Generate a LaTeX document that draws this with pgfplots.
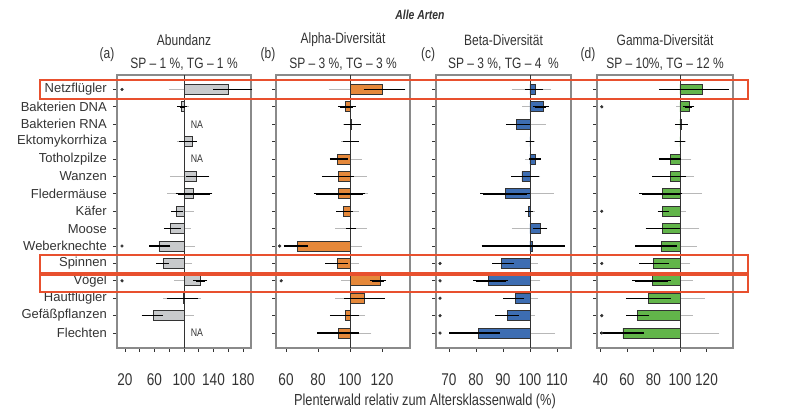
\documentclass[border=0pt]{standalone}
\usepackage{pgfplots}
\pgfplotsset{compat=1.18}
\usepackage{pgfplotstable}
\usepackage{fontspec}
\setmainfont{Liberation Sans}
\newfontfamily\cond{Liberation Sans}[FakeStretch=0.8]
\definecolor{cgray}{HTML}{C8CACC}
\definecolor{corange}{HTML}{E5883A}
\definecolor{cblue}{HTML}{3D6DB2}
\definecolor{cgreen}{HTML}{62B54A}
\definecolor{frame}{HTML}{8A8A8A}
\definecolor{hl}{HTML}{E8502E}
\definecolor{txt}{HTML}{333333}
\definecolor{lgray}{HTML}{B8B8B8}

% y: row index, v: bar value, lo/hi: black interval, g1/g2: grey interval
\pgfplotstableread{
y v lo hi g1 g2
0 160 143 189 82 108
1 97 94 101 93 104
3 111 97 114 93 105
5 117 106 131 84 105
6 112 92 135 80 105
7 90 86 95 93 110
8 82 76 92 95 106
9 66 56 78 98 112
10 72 66 76 98 108
11 122 116 128 90 104
12 99 81 116 75 120
13 58 46 68 98 110
}\dataA
\pgfplotstableread{
y v lo hi g1 g2
0 120 110 133 88 100
1 97 94 102 96 101
2 101 98 105 97 104
3 100.5 97 104 96 104
4 92 89 97 98 106
5 93 84 101 97 109
6 93 79 108 95 110
7 96 93 100 98 104
8 100.5 99 102 92 109
9 67 60 72 100 106
10 92 86 97 98 104
11 119 114 121 96 103
12 109 98 120 92 104
13 97 89 104 100 108
14 93 81 104 96 112
}\dataB
\pgfplotstableread{
y v lo hi g1 g2
0 102 99 104 94 107
1 105 102 106 98 102
2 95 92 99 97 105
3 100 99.3 100.7 99 101
4 102 100.5 103 99 102
5 97 94 102.6 99 103
6 91 82.5 99 96 108
7 99.5 99 100.3 99 101
8 104 102 105.5 94 101
9 101 83 112 92 104
10 89.5 87 93 99 102
11 84.5 80 91 99 103
12 94.5 91 97 99 102
13 91.5 88 95 99 101
14 81 71 88 95 108.5
}\dataC
\pgfplotstableread{
y v lo hi g1 g2
0 117 86 135 95 105
1 107 104 109 99 102
2 101 98 104 99 102
3 100 98 102 97 103
4 92.5 86 99 99 107
5 92.5 81 103 97 109
6 87 71 100 97 115
7 87 85 90 98 103
8 87 76 98 100 113
9 86 68 96 99 111
10 80 71 90 99 106
11 79 66 91 99 108
12 76 61 91 99 117
13 68 61.5 75 99 108
14 57 41.5 71 99 128
}\dataD

\pgfplotsset{
  panel/.style={
    scale only axis, height=273pt, anchor=south west,
    y dir=reverse, ymin=-0.83, ymax=14.86,
    ytick={0,...,14}, yticklabels={},
    tick align=outside, tick pos=left,
    major tick length=4pt,
    tick style={draw=txt, line width=0.8pt},
    axis line style={draw=frame, line width=1.6pt},
    xticklabel style={font=\cond\fontsize{17}{17}\selectfont, text=txt, anchor=base, yshift=-34pt},
    yticklabel style={font=\fontsize{13}{13}\selectfont, text=txt, anchor=east, inner sep=0pt, xshift=-6pt},
    clip=false,
  },
  barplot/.style={xbar, bar width=10pt, bar shift=0pt, draw=black!80, line width=0.7pt,
    error bars/x dir=both, error bars/x explicit,
    error bars/error bar style={black, line width=1.4pt},
    error bars/error mark options={black, mark size=2.5pt, line width=1.2pt}},
  grayerr/.style={draw=none, mark=none,
    error bars/x dir=both, error bars/x explicit,
    error bars/error bar style={draw=lgray, line width=0.9pt},
    error bars/error mark options={draw=lgray, mark size=2.2pt, line width=0.9pt}},
  refline/.style={txt, line width=0.8pt},
  stars/.style={only marks, mark=*, mark size=1.4pt, txt},
}

\begin{document}
\begin{tikzpicture}
\path[use as bounding box] (0pt,0pt) rectangle (790pt,411pt);

% ---------- (a) Abundanz ----------
\begin{axis}[panel, at={(117pt,63pt)}, width=134pt,
  xmin=-90.8, xmax=90.8, xtick={-80,-60,...,80}, xticklabels={20,,60,,100,,140,,180},
  yticklabels={Netzflügler,Bakterien DNA,Bakterien RNA,Ektomykorrhiza,Totholzpilze,Wanzen,Fledermäuse,Käfer,Moose,Weberknechte,Spinnen,Vögel,Hautflügler,Gefäßpflanzen,Flechten}]
\addplot[grayerr] table[x expr=(\thisrow{g1}+\thisrow{g2})/2-100, y=y, x error expr=(\thisrow{g2}-\thisrow{g1})/2] {\dataA};
\addplot[refline] table[x expr=\thisrow{x}-100, y=y]{
x y
100 -0.83
100 14.86
};
\addplot[fill=cgray, barplot] table[x expr=\thisrow{v}-100, y=y, x error plus expr=\thisrow{hi}-\thisrow{v}, x error minus expr=\thisrow{v}-\thisrow{lo}] {\dataA};
\addplot[stars] table[x expr=\thisrow{x}-100, y=y]{
x y
16 0
16 9
16 11
};
\node[font=\cond\fontsize{11}{11}\selectfont, text=txt] at (axis cs:17.5,2) {NA};
\node[font=\cond\fontsize{11}{11}\selectfont, text=txt] at (axis cs:17.5,4) {NA};
\node[font=\cond\fontsize{11}{11}\selectfont, text=txt] at (axis cs:17.5,14) {NA};
\end{axis}

% ---------- (b) Alpha ----------
\begin{axis}[panel, at={(276pt,63pt)}, width=134pt,
  xmin=-46.25, xmax=37.5, xtick={-40,-20,0,20}, xticklabels={60,80,100,120}]
\addplot[grayerr] table[x expr=(\thisrow{g1}+\thisrow{g2})/2-100, y=y, x error expr=(\thisrow{g2}-\thisrow{g1})/2] {\dataB};
\addplot[refline] table[x expr=\thisrow{x}-100, y=y]{
x y
100 -0.83
100 14.86
};
\addplot[fill=corange, barplot] table[x expr=\thisrow{v}-100, y=y, x error plus expr=\thisrow{hi}-\thisrow{v}, x error minus expr=\thisrow{v}-\thisrow{lo}] {\dataB};
\addplot[stars] table[x expr=\thisrow{x}-100, y=y]{
x y
56 9
57 11
};
\end{axis}

% ---------- (c) Beta ----------
\begin{axis}[panel, at={(436pt,63pt)}, width=135pt,
  xmin=-34.8, xmax=15.2, xtick={-30,-20,-10,0,10}, xticklabels={70,80,90,100,110}]
\addplot[grayerr] table[x expr=(\thisrow{g1}+\thisrow{g2})/2-100, y=y, x error expr=(\thisrow{g2}-\thisrow{g1})/2] {\dataC};
\addplot[refline] table[x expr=\thisrow{x}-100, y=y]{
x y
100 -0.83
100 14.86
};
\addplot[fill=cblue, barplot] table[x expr=\thisrow{v}-100, y=y, x error plus expr=\thisrow{hi}-\thisrow{v}, x error minus expr=\thisrow{v}-\thisrow{lo}] {\dataC};
\addplot[stars] table[x expr=\thisrow{x}-100, y=y]{
x y
66.7 10
66.7 11
66.7 12
66.7 13
66.7 14
};
\end{axis}

% ---------- (d) Gamma ----------
\begin{axis}[panel, at={(597pt,63pt)}, width=136pt,
  xmin=-62.6, xmax=40, xtick={-60,-40,-20,0,20}, xticklabels={40,60,80,100,120}]
\addplot[grayerr] table[x expr=(\thisrow{g1}+\thisrow{g2})/2-100, y=y, x error expr=(\thisrow{g2}-\thisrow{g1})/2] {\dataD};
\addplot[refline] table[x expr=\thisrow{x}-100, y=y]{
x y
100 -0.83
100 14.86
};
\addplot[fill=cgreen, barplot] table[x expr=\thisrow{v}-100, y=y, x error plus expr=\thisrow{hi}-\thisrow{v}, x error minus expr=\thisrow{v}-\thisrow{lo}] {\dataD};
\addplot[stars] table[x expr=\thisrow{x}-100, y=y]{
x y
41 1
41 7
41 10
41 13
41 14
};
\end{axis}

% ---------- titles ----------
\node[font=\cond\bfseries\itshape\fontsize{13}{13}\selectfont, text=txt] at (420pt,396pt) {Alle Arten};
\begin{scope}[every node/.style={font=\cond\fontsize{15}{15}\selectfont, text=txt}]
\node at (184pt,371pt) {Abundanz};
\node at (343pt,371pt) {Alpha-Diversität};
\node at (503.5pt,371pt) {Beta-Diversität};
\node at (665pt,371pt) {Gamma-Diversität};
\node at (184pt,347pt) {SP – 1 \%, TG – 1 \%};
\node at (343pt,347pt) {SP – 3 \%, TG – 3 \%};
\node at (503.5pt,347pt) {SP – 3 \%, TG – 4 \ \%};
\node at (665pt,347pt) {SP – 10\%, TG – 12 \%};
\node at (107pt,356pt) {(a)};
\node at (268pt,356pt) {(b)};
\node at (428pt,356pt) {(c)};
\node at (588pt,356pt) {(d)};
\end{scope}
\node[font=\cond\fontsize{16}{16}\selectfont, text=txt] at (425pt,10pt) {Plenterwald relativ zum Altersklassenwald (\%)};

% ---------- highlight frames ----------
\draw[hl, line width=2pt] (40pt,331pt) rectangle (748pt,312pt);
\draw[hl, line width=2pt] (40pt,156pt) rectangle (748pt,138pt);
\draw[hl, line width=2pt] (40pt,136pt) rectangle (748pt,119pt);
\end{tikzpicture}
\end{document}
